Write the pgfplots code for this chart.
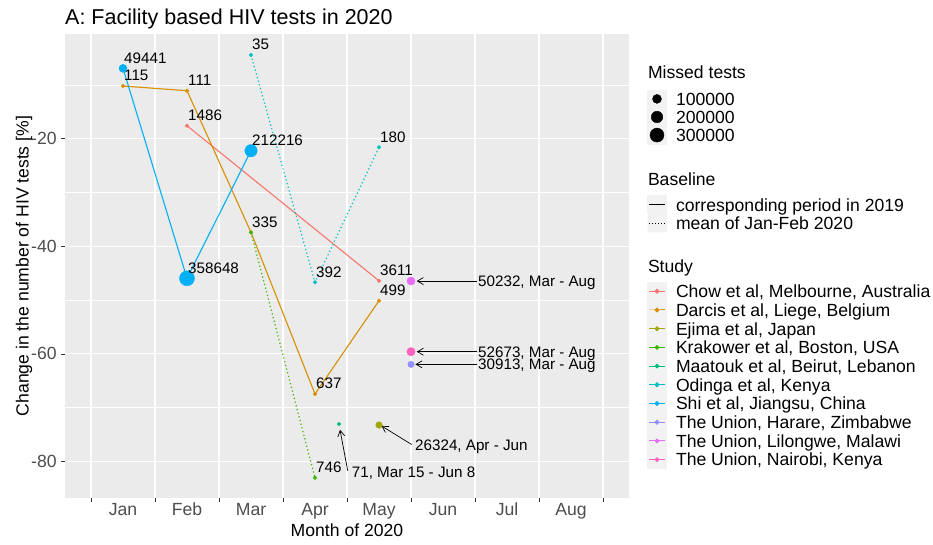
\documentclass[border=0pt]{standalone}
\usepackage{pgfplots}
\pgfplotsset{compat=1.18}
\usepackage{pgfplotstable}
\usepackage{fontspec}
\setmainfont{Liberation Sans}
\usetikzlibrary{arrows.meta}

\definecolor{panelbg}{HTML}{EBEBEB}
\definecolor{keybg}{HTML}{F2F2F2}
\definecolor{axtext}{HTML}{4D4D4D}
\definecolor{axtick}{HTML}{333333}
\definecolor{cChow}{HTML}{F8766D}
\definecolor{cDarcis}{HTML}{D89000}
\definecolor{cEjima}{HTML}{A3A500}
\definecolor{cKrak}{HTML}{39B600}
\definecolor{cMaat}{HTML}{00BF7D}
\definecolor{cOdinga}{HTML}{00BFC4}
\definecolor{cShi}{HTML}{00B0F6}
\definecolor{cHarare}{HTML}{9590FF}
\definecolor{cLilong}{HTML}{E76BF3}
\definecolor{cNairobi}{HTML}{FF62BC}

% month index (Jan = 1), change in %, label = missed tests
\pgfplotstableread{
x y lab
2 -17.56 1486
5 -46.40 3611
}\chow
\pgfplotstableread{
x y lab
1 -10.18 115
2 -11.05 111
3 -37.39 {}
4 -67.46 637
5 -50.11 499
}\darcis
\pgfplotstableread{
x y lab
3 -37.40 335
4 -83.03 746
}\krak
\pgfplotstableread{
x y lab
3 -4.41 35
4 -46.69 392
5 -21.58 180
}\odinga
\pgfplotstableread{
x y
1 -6.89
2 -45.94
3 -22.21
}\shi

\newcommand{\legtext}[1]{\smash{#1}\rule[-2.55pt]{0pt}{17.7pt}}
\newcommand{\bigfont}{\fontsize{17.6}{20}\selectfont}
\newcommand{\labfont}{\fontsize{15.2}{18}\selectfont}

\pgfplotsset{
  solidline/.style={line width=1.1pt, forget plot},
  dotline/.style={line width=1.2pt, dash pattern=on 1.2pt off 2.6pt, forget plot},
  pts/.style={only marks, mark=*, mark size=1.85pt, mark options={draw=none}, forget plot},
  ptlab/.style={pts, nodes near coords, point meta=explicit symbolic,
    nodes near coords style={anchor=base west, inner sep=0pt, xshift=1pt, yshift=5.3pt,
      text=black, font=\labfont}},
  sizekey/.style={legend image code/.code={
    \fill[keybg] (0pt,-8.85pt) rectangle (19pt,8.85pt);
    \draw[##1] plot coordinates {(9.5pt,0pt)};}},
  linekey/.style={legend image code/.code={
    \fill[keybg] (0pt,-8.85pt) rectangle (19pt,8.85pt);
    \draw[##1] (1.5pt,0pt) -- (17.5pt,0pt);}},
  studykey/.style={legend image code/.code={
    \fill[keybg] (0pt,-8.85pt) rectangle (19pt,8.85pt);
    \draw[##1, mark repeat=2, mark phase=2] plot coordinates {(1.5pt,0pt) (9.5pt,0pt) (17.5pt,0pt)};}},
}

\begin{document}
\begin{tikzpicture}
\useasboundingbox (-65pt,-46pt) rectangle (868pt,498pt);
\begin{axis}[
  at={(0pt,0pt)}, anchor=south west,
  width=564pt, height=464pt, scale only axis,
  xmin=0.09375, xmax=8.90625, ymin=-86.8, ymax=-0.5,
  clip=false,
  axis background/.style={fill=panelbg},
  axis line style={draw=none},
  tick pos=left, tick align=outside,
  major tick length=3.7pt, minor tick length=0pt,
  every tick/.style={axtick, line width=0.8pt},
  xtick={0.5,1.5,...,8.5}, xticklabels={},
  extra x ticks={1,2,3,4,5,6,7,8},
  extra x tick labels={Jan,Feb,Mar,Apr,May,Jun,Jul,Aug},
  extra x tick style={major tick length=0pt, grid=none},
  ytick={-80,-60,-40,-20}, yticklabels={-80,-60,-40,-20},
  minor ytick={-70,-50,-30,-10},
  xmajorgrids, ymajorgrids, yminorgrids,
  major grid style={white, line width=1.1pt},
  minor grid style={white, line width=0.55pt},
  tick label style={font=\bigfont, text=axtext},
  xticklabel style={inner sep=0pt, anchor=base, yshift=-17pt},
  yticklabel style={inner sep=0pt, anchor=east, xshift=-4.5pt},
  title={A: Facility based HIV tests in 2020},
  every axis title/.style={at={(axis description cs:0,1)}, anchor=base west,
    inner sep=0pt, yshift=9pt, font=\fontsize{21.5}{24}\selectfont},
  xlabel={Month of 2020},
  every axis x label/.style={at={(axis description cs:0.5,0)}, anchor=base,
    inner sep=0pt, yshift=-38.7pt, font=\bigfont},
  ylabel={Change in the number of HIV tests [\%]},
  every axis y label/.style={at={(axis description cs:-0.0647,0.5)}, rotate=90,
    anchor=base, inner sep=0pt, font=\bigfont},
  legend cell align=left,
  legend style={draw=none, fill=none, at={(axis description cs:1.03191,0.93815)},
    anchor=north west, inner sep=0pt, outer sep=0pt, row sep=0pt, column sep=9pt,
    font=\bigfont, nodes={inner sep=0pt, text depth=}},
]
% lines
\addplot[cChow, solidline] table[x=x, y=y] {\chow};
\addplot[cDarcis, solidline] table[x=x, y=y] {\darcis};
\addplot[cKrak, dotline] table[x=x, y=y] {\krak};
\addplot[cOdinga, dotline] table[x=x, y=y] {\odinga};
\addplot[cShi, solidline] table[x=x, y=y] {\shi};

% points (size = missed tests)
\addplot[cChow, ptlab] table[x=x, y=y, meta=lab] {\chow};
\addplot[cDarcis, ptlab] table[x=x, y=y, meta=lab] {\darcis};
\addplot[cEjima, pts, mark size=3.3pt] coordinates {(5,-73.23)};
\addplot[cKrak, ptlab] table[x=x, y=y, meta=lab] {\krak};
\addplot[cMaat, pts] coordinates {(4.375,-73.04)};
\addplot[cOdinga, ptlab] table[x=x, y=y, meta=lab] {\odinga};
\addplot[cShi, ptlab, mark size=4pt] coordinates {(1,-6.89) [49441]};
\addplot[cShi, ptlab, mark size=7.5pt] coordinates {(2,-45.94) [358648]};
\addplot[cShi, ptlab, mark size=6.2pt] coordinates {(3,-22.21) [212216]};
\addplot[cHarare, pts, mark size=3.2pt] coordinates {(5.5,-61.94)};
\addplot[cLilong, pts, mark size=4pt] coordinates {(5.5,-46.45)};
\addplot[cNairobi, pts, mark size=4.2pt] coordinates {(5.5,-59.59)};

% annotations
\tikzset{ann/.style={-{Straight Barb[length=6pt,width=7pt]}, line width=0.7pt, black},
  anntext/.style={anchor=west, inner sep=0pt, text height=10.8pt, text depth=0pt, font=\labfont}}
\draw[ann] (axis cs:6.527,-46.45) -- (axis cs:5.589,-46.45);
\node[anntext] at (axis cs:6.547,-46.45) {50232, Mar - Aug};
\draw[ann] (axis cs:6.527,-59.59) -- (axis cs:5.589,-59.59);
\node[anntext] at (axis cs:6.547,-59.59) {52673, Mar - Aug};
\draw[ann] (axis cs:6.527,-61.94) -- (axis cs:5.569,-61.94);
\node[anntext] at (axis cs:6.547,-61.94) {30913, Mar - Aug};
\draw[ann] (axis cs:5.51,-76.85) -- (axis cs:5.04,-73.4);
\node[anntext] at (axis cs:5.5625,-76.95) {26324, Apr - Jun};
\draw[ann] (axis cs:4.511,-81.73) -- (axis cs:4.391,-74.11);
\node[anntext] at (axis cs:4.573,-81.91) {71, Mar 15 - Jun 8};

% legend
\addlegendimage{empty legend}
\addlegendentry{\hspace*{-28pt}\smash{Missed tests}\rule[-11.55pt]{0pt}{27.15pt}}
\addlegendimage{sizekey, only marks, mark=*, mark size=4.5pt, black}
\addlegendentry{\legtext{100000}}
\addlegendimage{sizekey, only marks, mark=*, mark size=5.8pt, black}
\addlegendentry{\legtext{200000}}
\addlegendimage{sizekey, only marks, mark=*, mark size=7pt, black}
\addlegendentry{\legtext{300000}}
\addlegendimage{empty legend}
\addlegendentry{\hspace*{-28pt}\smash{Baseline}\rule[-10.25pt]{0pt}{51.3pt}}
\addlegendimage{linekey, black, line width=0.9pt}
\addlegendentry{\legtext{corresponding period in 2019}}
\addlegendimage{linekey, black, line width=0.9pt, dash pattern=on 1pt off 2pt}
\addlegendentry{\legtext{mean of Jan-Feb 2020}}
\addlegendimage{empty legend}
\addlegendentry{\hspace*{-28pt}\smash{Study}\rule[-9.45pt]{0pt}{49.3pt}}
\addlegendimage{studykey, cChow, line width=1pt, mark=*, mark size=1.85pt}
\addlegendentry{\legtext{Chow et al, Melbourne, Australia}}
\addlegendimage{studykey, cDarcis, line width=1pt, mark=*, mark size=1.85pt}
\addlegendentry{\legtext{Darcis et al, Liege, Belgium}}
\addlegendimage{studykey, cEjima, line width=1pt, mark=*, mark size=1.85pt}
\addlegendentry{\legtext{Ejima et al, Japan}}
\addlegendimage{studykey, cKrak, line width=1pt, mark=*, mark size=1.85pt}
\addlegendentry{\legtext{Krakower et al, Boston, USA}}
\addlegendimage{studykey, cMaat, line width=1pt, mark=*, mark size=1.85pt}
\addlegendentry{\legtext{Maatouk et al, Beirut, Lebanon}}
\addlegendimage{studykey, cOdinga, line width=1pt, mark=*, mark size=1.85pt}
\addlegendentry{\legtext{Odinga et al, Kenya}}
\addlegendimage{studykey, cShi, line width=1pt, mark=*, mark size=1.85pt}
\addlegendentry{\legtext{Shi et al, Jiangsu, China}}
\addlegendimage{studykey, cHarare, line width=1pt, mark=*, mark size=1.85pt}
\addlegendentry{\legtext{The Union, Harare, Zimbabwe}}
\addlegendimage{studykey, cLilong, line width=1pt, mark=*, mark size=1.85pt}
\addlegendentry{\legtext{The Union, Lilongwe, Malawi}}
\addlegendimage{studykey, cNairobi, line width=1pt, mark=*, mark size=1.85pt}
\addlegendentry{\legtext{The Union, Nairobi, Kenya}}
\end{axis}
\end{tikzpicture}
\end{document}
